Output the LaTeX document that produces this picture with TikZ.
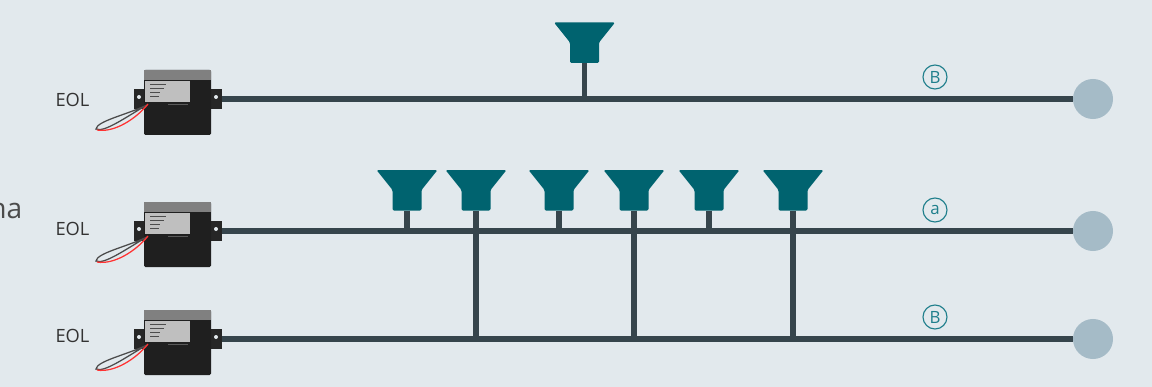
\documentclass[tikz,border=0pt]{standalone}
\usepackage{fontspec}
\setmainfont{Open Sans}
\definecolor{bgcol}{HTML}{E2E9ED}
\definecolor{wirecol}{HTML}{36454C}
\definecolor{hornteal}{HTML}{00636F}
\definecolor{marktin}{HTML}{1F7F8C}
\definecolor{endcol}{HTML}{A5BBC7}
\tikzset{
	wire/.style={draw=wirecol,line width=3.8pt},
	endpt/.style={circle,fill=endcol,minimum size=1cm,inner sep=0pt},
	mark letter/.style={circle,draw=marktin,line width=0.8pt,minimum size=0.6cm,inner sep=0pt,text=marktin,font=\fontsize{12}{12}\selectfont},
	eollabel/.style={text=black!80,font=\fontsize{13}{13}\selectfont},
	speaker/.pic={
		\fill[hornteal,rounded corners=1pt] (-30.5,-40.5) -- (30.5,-40.5) -- (14.5,-20.5) -- (14.5,0) -- (-14.5,0) -- (-14.5,-20.5) -- cycle;
		\coordinate (-foot) at (0,0);
	},
	eol/.pic={
		\fill[black!85] (-10,-10) rectangle (0,10);
		\fill[black!85] (67,-10) rectangle (78,10);
		\fill[bgcol] (-5,-2) circle (2);
		\fill[bgcol] (72,-2) circle (2);
		\fill[black!88,rounded corners=1pt] (0,-29) rectangle (67,36);
		\fill[black!50] (0,-29) rectangle (67,-19);
		\fill[black!25] (1,-18) rectangle (46,3);
		\draw[black!70,line width=0.7pt] (6,-15) -- (22,-15) (6,-11) -- (20,-11) (6,-7) -- (16,-7) (6,-3) -- (15,-3);
		\draw[black!65,line width=0.5pt] (24,5) -- (44,5);
		\draw[black!70,line width=0.9pt] (3,6) .. controls (-18,16) and (-47,22) .. (-48,30) .. controls (-40,34) and (-18,18) .. (3,6);
		\draw[red!80,line width=0.9pt] (4,5) .. controls (-8,20) and (-30,34) .. (-47,31);
		\coordinate (-port) at (78,0);
	}
}
\begin{document}
\begin{tikzpicture}[x=0.025cm,y=-0.025cm]
	\useasboundingbox[fill=bgcol] (0,0) rectangle (1152,387);

	\node[anchor=base east,inner sep=0pt,text=black!70,font=\fontsize{20}{20}\selectfont] (cutoff) at (22.5,218) {na};
	\node[eollabel] (lab1) at (72.5,100) {EOL};
	\node[eollabel] (lab2) at (72.5,229) {EOL};
	\node[eollabel] (lab3) at (72.5,336) {EOL};

	\pic (d1) at (144,99) {eol};
	\pic (d2) at (144,231) {eol};
	\pic (d3) at (144,339) {eol};

	\node[endpt] (n1) at (1093,99) {};
	\node[endpt] (n2) at (1093,231) {};
	\node[endpt] (n3) at (1093,339) {};

	\draw[wire] (d1-port)--(n1);
	\draw[wire] (d2-port)--(n2);
	\draw[wire] (d3-port)--(n3);

	\coordinate (j1) at (584.5,99);
	\coordinate (j2) at (407,231);
	\coordinate (j3) at (476,339);
	\coordinate (j4) at (559,231);
	\coordinate (j5) at (634,339);
	\coordinate (j6) at (709,231);
	\coordinate (j7) at (793,339);

	\pic (s1) at (584.5,63) {speaker};
	\pic (s2) at (407,210.5) {speaker};
	\pic (s3) at (476,210.5) {speaker};
	\pic (s4) at (559,210.5) {speaker};
	\pic (s5) at (634,210.5) {speaker};
	\pic (s6) at (709,210.5) {speaker};
	\pic (s7) at (793,210.5) {speaker};

	\draw[wire] (s1-foot)--(j1);
	\draw[wire] (s2-foot)--(j2);
	\draw[wire] (s3-foot)--(j3);
	\draw[wire] (s4-foot)--(j4);
	\draw[wire] (s5-foot)--(j5);
	\draw[wire] (s6-foot)--(j6);
	\draw[wire] (s7-foot)--(j7);

	\node[mark letter] (m1) at (935,77) {B};
	\node[mark letter] (m2) at (935,210) {a};
	\node[mark letter] (m3) at (935,317) {B};
\end{tikzpicture}
\end{document}
